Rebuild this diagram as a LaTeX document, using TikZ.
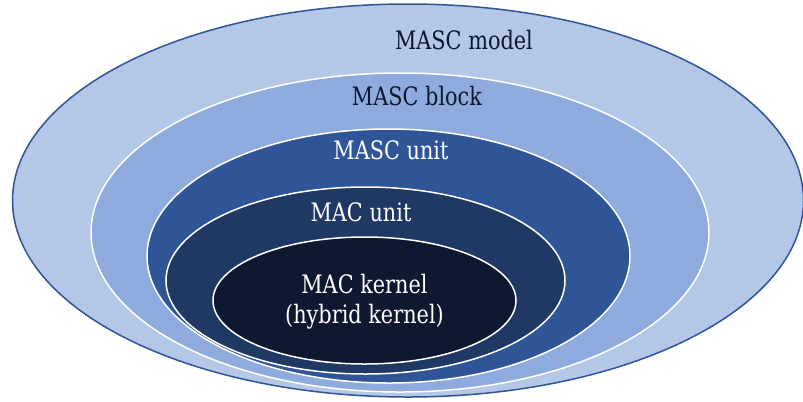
\documentclass[tikz,border=0pt]{standalone}
\usepackage{fontspec}
\setmainfont{DejaVu Serif}[FakeStretch=0.82]
\usetikzlibrary{shapes.geometric}

\definecolor{ringA}{HTML}{B4C7E7}
\definecolor{ringB}{HTML}{8FAADC}
\definecolor{ringC}{HTML}{2F5597}
\definecolor{ringD}{HTML}{203864}
\definecolor{ringE}{HTML}{0E1830}
\definecolor{rimdark}{HTML}{2F5597}
\definecolor{inkdark}{HTML}{0D1730}

\tikzset{
  layer/.style={ellipse, inner sep=0pt, line width=1.5bp},
  lighttext/.style={anchor=base, text=inkdark, font=\fontsize{25.5}{30}\selectfont},
  darktext/.style={anchor=base, text=white, font=\fontsize{25.5}{30}\selectfont},
}

\begin{document}
\begin{tikzpicture}[x=1bp, y=-1bp]
  \useasboundingbox (0,0) rectangle (803,401);

  % nested layers, outermost first
  \node[layer, draw=rimdark, fill=ringA, minimum width=791bp, minimum height=393bp] (model) at (408,200.5) {};
  \node[layer, draw=white, fill=ringB, minimum width=618bp, minimum height=319bp] (block) at (400,232.5) {};
  \node[layer, draw=white, fill=ringC, minimum width=483bp, minimum height=254bp] (munit) at (388.5,256) {};
  \node[layer, draw=white, fill=ringD, minimum width=399bp, minimum height=187bp] (macunit) at (365.5,280.5) {};
  \node[layer, draw=white, fill=ringE, minimum width=303bp, minimum height=127bp] (kernel) at (364.5,300.5) {};

  % layer labels
  \node[lighttext] (tmodel) at (464,49) {MASC model};
  \node[lighttext] (tblock) at (417,105) {MASC block};
  \node[darktext] (tmunit) at (391,159) {MASC unit};
  \node[darktext] (tmacunit) at (361,221) {MAC unit};
  \node[darktext] (tkernel) at (364.5,293) {MAC kernel};
  \node[darktext] (thybrid) at (364.5,323) {(hybrid kernel)};
\end{tikzpicture}
\end{document}
